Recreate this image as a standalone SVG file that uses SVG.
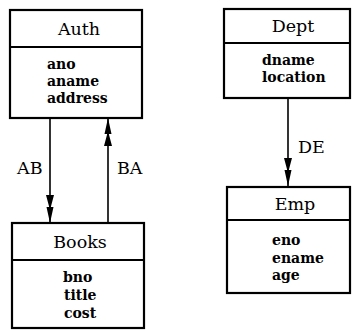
<svg xmlns="http://www.w3.org/2000/svg" width="352" height="330" viewBox="0 0 352 330">
<defs>
<style>
.box{fill:#fff;stroke:#000;stroke-width:2.2}
.div{stroke:#000;stroke-width:2}
.hd{font-family:"DejaVu Serif","Liberation Serif",serif;font-size:17.5px;fill:#000;text-anchor:middle}
.at{font-family:"DejaVu Serif","Liberation Serif",serif;font-size:14px;font-weight:bold;fill:#000}
.lb{font-family:"DejaVu Serif","Liberation Serif",serif;font-size:17.5px;fill:#000}
.ln{stroke:#000;stroke-width:1.6;fill:none}
</style>
<marker id="dbl" markerUnits="userSpaceOnUse" viewBox="0 0 28 10" refX="28" refY="5" markerWidth="28" markerHeight="10" orient="auto">
<path d="M0,1 L15,5 L0,9 Z M12,1.5 L28,5 L12,8.5 Z" fill="#000"/>
</marker>
</defs>
<g id="connectors">
<line class="ln" x1="50" y1="118" x2="50" y2="223" marker-end="url(#dbl)"/>
<line class="ln" x1="108" y1="223" x2="108" y2="118" marker-end="url(#dbl)"/>
<line class="ln" x1="288" y1="98" x2="288" y2="186" marker-end="url(#dbl)"/>
<text class="lb" x="17" y="174">AB</text>
<text class="lb" x="117" y="174">BA</text>
<text class="lb" x="298" y="153">DE</text>
</g>
<g id="auth">
<rect class="box" x="10" y="10" width="132" height="108"/>
<line class="div" x1="10" y1="47" x2="142" y2="47"/>
<text class="hd" x="79" y="35">Auth</text>
<text class="at" x="47" y="69">ano</text>
<text class="at" x="47" y="86">aname</text>
<text class="at" x="47" y="103">address</text>
</g>
<g id="books">
<rect class="box" x="12" y="223" width="132" height="105"/>
<line class="div" x1="12" y1="260" x2="144" y2="260"/>
<text class="hd" x="80" y="248">Books</text>
<text class="at" x="63" y="282">bno</text>
<text class="at" x="64" y="300">title</text>
<text class="at" x="64" y="318">cost</text>
</g>
<g id="dept">
<rect class="box" x="224" y="9" width="126" height="89"/>
<line class="div" x1="224" y1="43" x2="350" y2="43"/>
<text class="hd" x="293" y="32">Dept</text>
<text class="at" x="262" y="65">dname</text>
<text class="at" x="262" y="82">location</text>
</g>
<g id="emp">
<rect class="box" x="227" y="187" width="123" height="106"/>
<line class="div" x1="227" y1="220" x2="350" y2="220"/>
<text class="hd" x="295" y="210">Emp</text>
<text class="at" x="272" y="245">eno</text>
<text class="at" x="272" y="263">ename</text>
<text class="at" x="272" y="280">age</text>
</g>
</svg>
